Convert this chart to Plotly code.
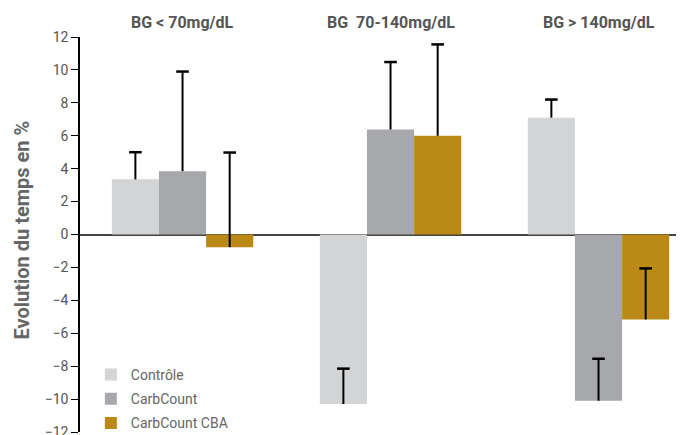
import plotly.graph_objects as go

groups = ["BG < 70mg/dL", "BG  70-140mg/dL", "BG > 140mg/dL"]
series = ["Contrôle", "CarbCount", "CarbCount CBA"]
controle = [3.35, -10.3, 7.1]
carbcount = [3.85, 6.38, -10.1]
cba = [-0.77, 6.0, -5.16]
err_controle = [1.65, 2.15, 1.1]
err_carbcount = [6.05, 4.1, 2.55]
err_cba = [5.75, 5.55, 3.1]
colors = ["#d3d4d6", "#a7a8ab", "#bb8916"]
yticks = list(range(-12, 13, 2))

group_pos = [0, 1, 2]
bar_w = 0.68 / 3
offsets = [-bar_w, 0, bar_w]

fig = go.Figure()
all_vals = [controle, carbcount, cba]
all_errs = [err_controle, err_carbcount, err_cba]
for i, (name, vals, errs) in enumerate(zip(series, all_vals, all_errs)):
    xs = [g + offsets[i] for g in group_pos]
    fig.add_trace(go.Bar(
        x=xs, y=vals, name=name, width=bar_w, marker_color=colors[i], marker_line_width=0,
        legendgroup=name,
        error_y=dict(type="data", array=errs, arrayminus=[0, 0, 0], symmetric=False,
                     color="black", thickness=2, width=0),
    ))
for i, (vals, errs) in enumerate(zip(all_vals, all_errs)):
    xs = [g + offsets[i] for g in group_pos]
    fig.add_trace(go.Scatter(
        x=xs, y=[v + e for v, e in zip(vals, errs)], mode="markers", showlegend=False,
        hoverinfo="skip",
        marker=dict(symbol="line-ew", size=9, line=dict(width=2.5, color="black")),
    ))

font_main = "Liberation Sans Narrow, Roboto, Arial"
for x, g in zip(group_pos, groups):
    fig.add_annotation(x=x, y=1.0, xref="x", yref="paper", yshift=15, text=f"<b>{g}</b>",
                       showarrow=False, font=dict(family=font_main, size=16, color="#555555"),
                       xanchor="center", yanchor="middle")

fig.add_annotation(xref="paper", yref="paper", x=-58 / 604, y=0.51, text="<b>Evolution du temps en %</b>",
                   textangle=-90, showarrow=False, xanchor="center", yanchor="middle",
                   font=dict(family="Roboto, Arial", size=20, color="#666666"))

fig.update_layout(
    width=684, height=435,
    margin=dict(l=72, r=8, t=29, b=11, autoexpand=False),
    paper_bgcolor="white", plot_bgcolor="white",
    barmode="overlay",
    showlegend=True,
    legend=dict(x=0.018, y=0.185, xanchor="left", yanchor="top", traceorder="grouped",
                tracegroupgap=3, font=dict(family="Roboto, Arial", size=14, color="#666666"),
                bgcolor="rgba(0,0,0,0)", itemwidth=30),
    xaxis=dict(range=[-0.493, 2.411], showticklabels=False, showgrid=False, zeroline=False,
               showline=False, ticks="", automargin=False),
    yaxis=dict(range=[-12, 12], tickvals=yticks, ticks="outside", ticklen=7, tickwidth=1.3,
               tickcolor="black", showline=True, linecolor="black", linewidth=1.5,
               showgrid=False, zeroline=True, zerolinecolor="#444444", zerolinewidth=2,
               automargin=False,
               tickfont=dict(family="Roboto, Arial", size=14, color="#555555")),
)
fig.write_html("out.html")
